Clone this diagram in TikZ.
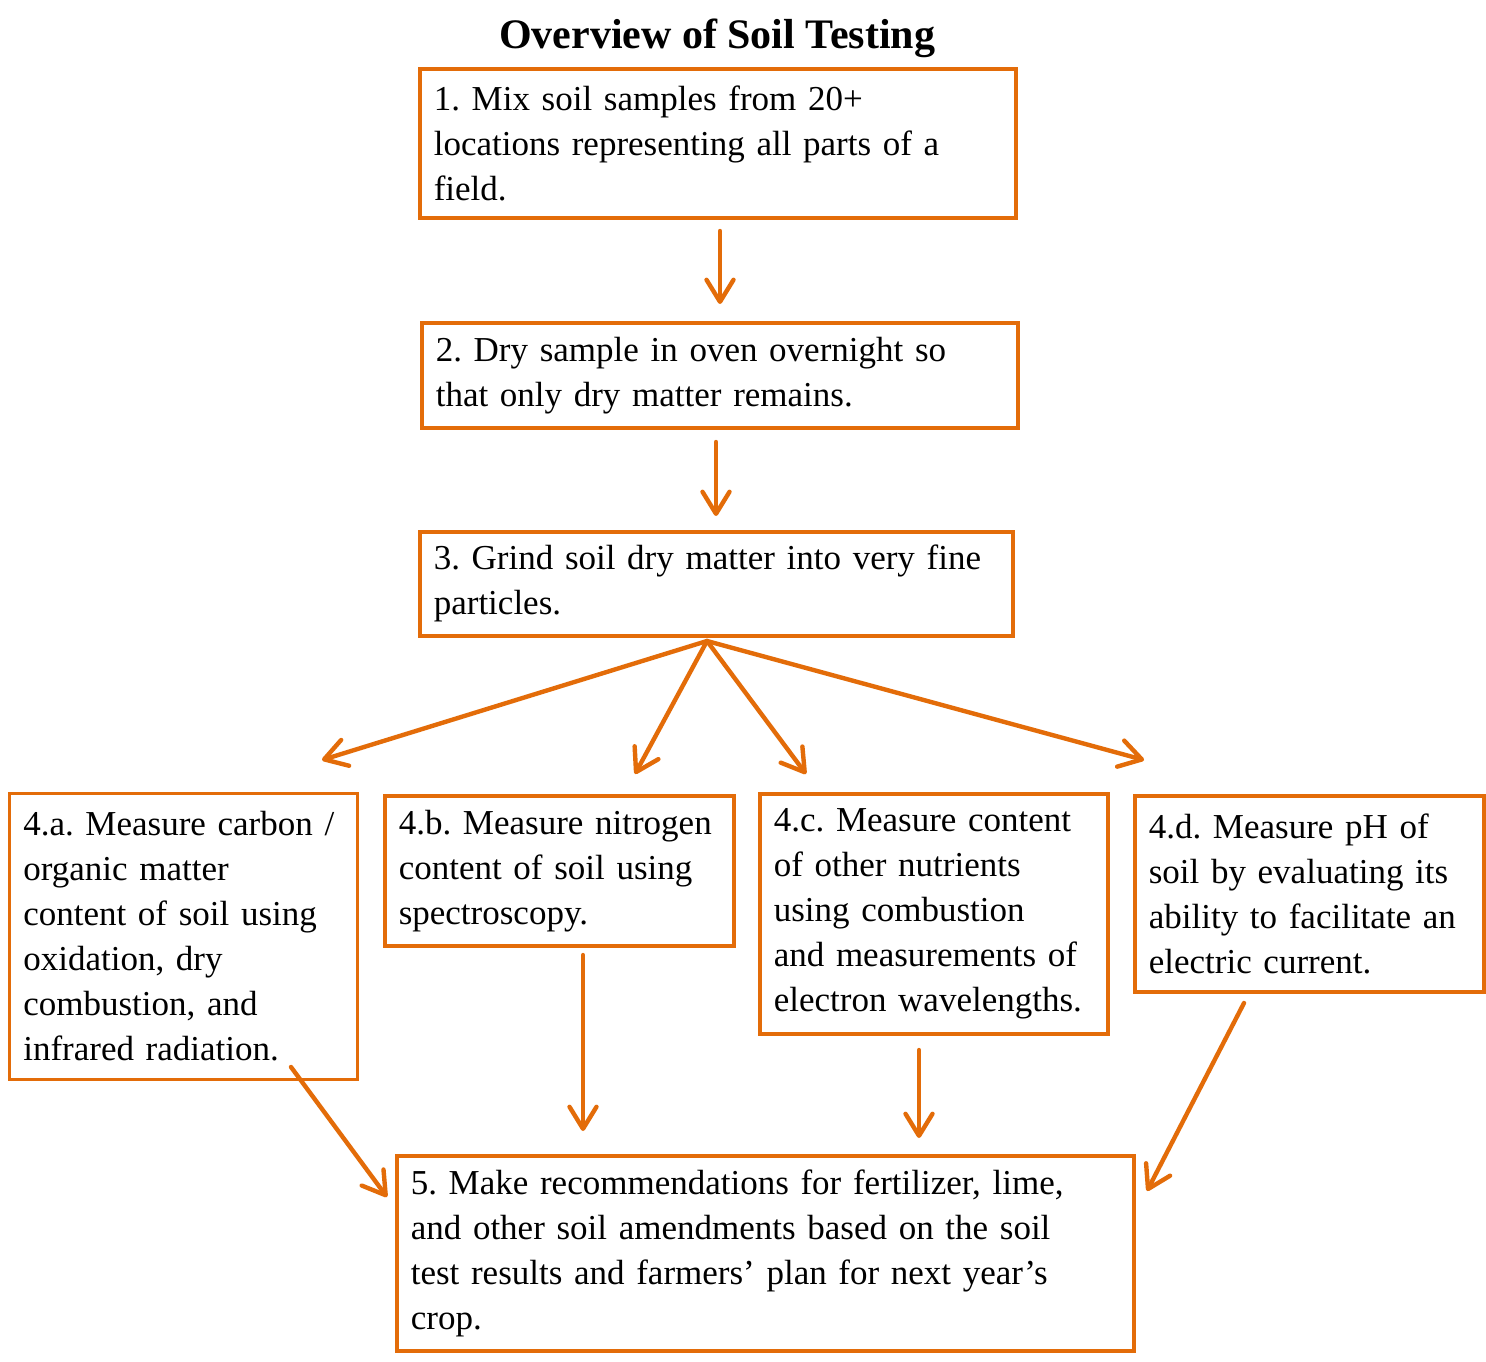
\documentclass[tikz,border=0pt]{standalone}
\usepackage{fontspec}
\setmainfont{Liberation Serif}
\usetikzlibrary{arrows.meta}
\definecolor{soilorange}{HTML}{E36C09}
\newcommand{\lline}[1]{\mbox{#1}}
\frenchspacing
\tikzset{
  box/.style={draw=soilorange, line width=3.6pt, anchor=north west, inner xsep=14pt, inner ysep=0pt,
    align=left, font=\fontsize{35}{45}\selectfont\frenchspacing, text=black},
  flow/.style={draw=soilorange, line width=4.4pt, line cap=round, line join=round,
    -{Straight Barb[length=22pt,width=27pt,line width=4.4pt,round]}},
}
\begin{document}
\begin{tikzpicture}[x=1pt,y=-1pt]
\useasboundingbox (0,0) rectangle (1486,1362);
\fill[white] (0,0) rectangle (1486,1362);
\node[font=\bfseries\fontsize{42}{45}\selectfont] (title) at (717,38) {Overview of Soil Testing};
\node[box, minimum width=596pt, minimum height=149pt, text width=568pt] (b1) at (418,67)
  {\lline{1. Mix soil samples from 20+}\\\lline{locations representing all parts of a}\\\lline{field.}};
\node[box, minimum width=596pt, minimum height=105pt, text width=568pt] (b2) at (420,321)
  {\lline{2. Dry sample in oven overnight so}\\\lline{that only dry matter remains.}};
\node[box, minimum width=593pt, minimum height=104pt, text width=565pt] (b3) at (418,530)
  {\lline{3. Grind soil dry matter into very fine}\\\lline{particles.}};
\node[box, line width=2.6pt, minimum width=348pt, minimum height=286pt, text width=320pt] (b4a) at (8,792)
  {\lline{4.a. Measure carbon /}\\\lline{organic matter}\\\lline{content of soil using}\\\lline{oxidation, dry}\\\lline{combustion, and}\\\lline{infrared radiation.}};
\node[box, minimum width=349pt, minimum height=150pt, text width=321pt] (b4b) at (383,794)
  {\lline{4.b. Measure nitrogen}\\\lline{content of soil using}\\\lline{spectroscopy.}};
\node[box, minimum width=348pt, minimum height=240pt, text width=320pt] (b4c) at (758,792)
  {\lline{4.c. Measure content}\\\lline{of other nutrients}\\\lline{using combustion}\\\lline{and measurements of}\\\lline{electron wavelengths.}};
\node[box, minimum width=349pt, minimum height=196pt, text width=321pt] (b4d) at (1133,794)
  {\lline{4.d. Measure pH of}\\\lline{soil by evaluating its}\\\lline{ability to facilitate an}\\\lline{electric current.}};
\node[box, minimum width=737pt, minimum height=195pt, text width=709pt] (b5) at (395,1154)
  {\lline{5. Make recommendations for fertilizer, lime,}\\\lline{and other soil amendments based on the soil}\\\lline{test results and farmers' plan for next year's}\\\lline{crop.}};
% connector end points
\coordinate (s12) at (720,231); \coordinate (e12) at (720,304);
\coordinate (s23) at (716,442); \coordinate (e23) at (716,516);
\coordinate (fan) at (707,641);
\coordinate (e3a) at (322,760); \coordinate (e3b) at (635,774);
\coordinate (e3c) at (806,774); \coordinate (e3d) at (1144,760);
\coordinate (sa5) at (291,1067); \coordinate (ea5) at (387,1197);
\coordinate (sb5) at (583,955); \coordinate (eb5) at (583,1131);
\coordinate (sc5) at (919,1050); \coordinate (ec5) at (919,1138);
\coordinate (sd5) at (1244,1003); \coordinate (ed5) at (1147,1191);
\draw[flow] (s12) -- (e12);
\draw[flow] (s23) -- (e23);
\draw[flow] (fan) -- (e3a);
\draw[flow] (fan) -- (e3b);
\draw[flow] (fan) -- (e3c);
\draw[flow] (fan) -- (e3d);
\draw[flow] (sa5) -- (ea5);
\draw[flow] (sb5) -- (eb5);
\draw[flow] (sc5) -- (ec5);
\draw[flow] (sd5) -- (ed5);
\end{tikzpicture}
\end{document}
